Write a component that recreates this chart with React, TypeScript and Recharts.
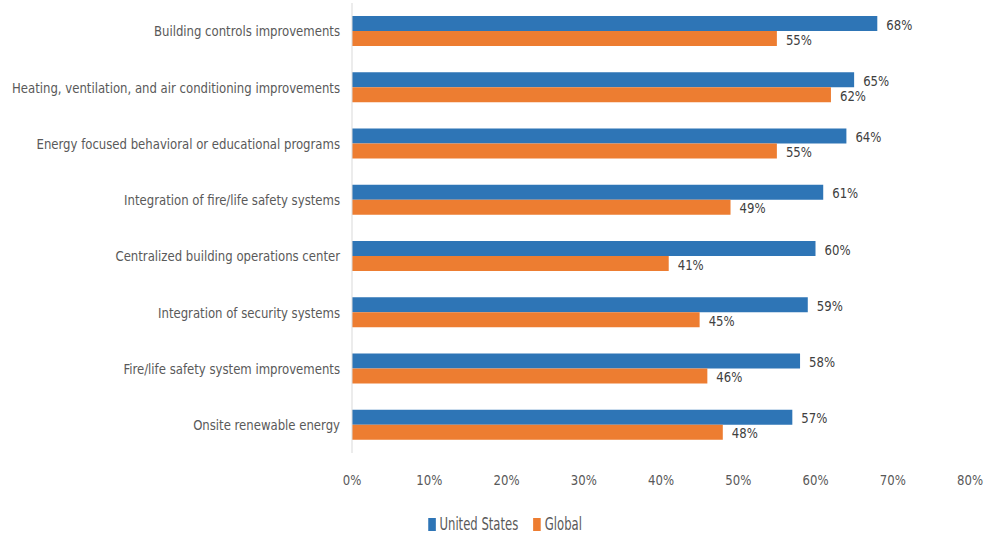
import React from 'react';
import { BarChart, Bar, XAxis, YAxis, Legend, LabelList } from 'recharts';

const categories = [
  'Building controls improvements',
  'Heating, ventilation, and air conditioning improvements',
  'Energy focused behavioral or educational programs',
  'Integration of fire/life safety systems',
  'Centralized building operations center',
  'Integration of security systems',
  'Fire/life safety system improvements',
  'Onsite renewable energy',
];
const unitedStates = [68, 65, 64, 61, 60, 59, 58, 57];
const globalValues = [55, 62, 55, 49, 41, 45, 46, 48];
const xTicks = [0, 10, 20, 30, 40, 50, 60, 70, 80];
const seriesNames = ['United States', 'Global'];
const seriesColors = ['#2E75B6', '#ED7D31'];

const data = categories.map((c, i) => ({ name: c, us: unitedStates[i], global: globalValues[i] }));

const FONT = '"DejaVu Sans Condensed", "DejaVu Sans", sans-serif';
const TEXT = '#595959';
const SX = 0.93;

function CText({ x, y, anchor, children, fill = TEXT, size = 14 }: any) {
  return (
    <text
      x={0}
      y={0}
      transform={`translate(${x},${y}) scale(${SX},1)`}
      textAnchor={anchor}
      dominantBaseline="central"
      fill={fill}
      fontSize={size}
      fontFamily={FONT}
    >
      {children}
    </text>
  );
}

const YTick = (props: any) => {
  const { x, y, payload } = props;
  return <CText x={x} y={y} anchor="end">{payload.value}</CText>;
};

const XTick = (props: any) => {
  const { x, y, payload } = props;
  return <CText x={x} y={y} anchor="middle">{`${payload.value}%`}</CText>;
};

const ValueLabel = (props: any) => {
  const { x, y, width, height, value } = props;
  return <CText x={Number(x) + Number(width) + 9} y={Number(y) + Number(height) / 2 + 1} anchor="start" fill="#404040">{`${value}%`}</CText>;
};

const LegendContent = () => (
  <div style={{ paddingLeft: 40, height: 20 }}>
    <div style={{ display: 'flex', justifyContent: 'center', alignItems: 'center', height: 20, fontFamily: FONT, fontSize: 17, color: TEXT, transform: 'scaleX(0.76)', transformOrigin: 'center center' }}>
      {seriesNames.map((n, i) => (
        <div key={n} style={{ display: 'flex', alignItems: 'center', marginRight: i === 0 ? 20 : 0 }}>
          <div style={{ width: 10, height: 13, background: seriesColors[i], marginRight: 5 }} />
          <span>{n}</span>
        </div>
      ))}
    </div>
  </div>
);

export default function App() {
  return (
    <div style={{ position: 'absolute', left: 0, top: 0, width: 998, height: 535, background: '#fff' }}>
      <BarChart
        width={998}
        height={535}
        data={data}
        layout="vertical"
        margin={{ top: 3, right: 28, left: 0, bottom: 32 }}
        barGap={0}
        barCategoryGap={0}
      >
        <XAxis
          type="number"
          domain={[0, 80]}
          ticks={xTicks}
          axisLine={false}
          tickLine={false}
          tickMargin={21}
          height={30}
          tick={<XTick />}
          interval={0}
        />
        <YAxis
          type="category"
          dataKey="name"
          width={352}
          axisLine={{ stroke: '#d9d9d9' }}
          tickLine={false}
          tickMargin={6}
          interval={0}
          tick={<YTick />}
        />
        <Legend verticalAlign="bottom" align="center" content={<LegendContent />} wrapperStyle={{ bottom: 1 }} />
        <Bar dataKey="us" name={seriesNames[0]} fill={seriesColors[0]} barSize={15} isAnimationActive={false}>
          <LabelList dataKey="us" content={<ValueLabel />} />
        </Bar>
        <Bar dataKey="global" name={seriesNames[1]} fill={seriesColors[1]} barSize={15} isAnimationActive={false}>
          <LabelList dataKey="global" content={<ValueLabel />} />
        </Bar>
      </BarChart>
    </div>
  );
}
